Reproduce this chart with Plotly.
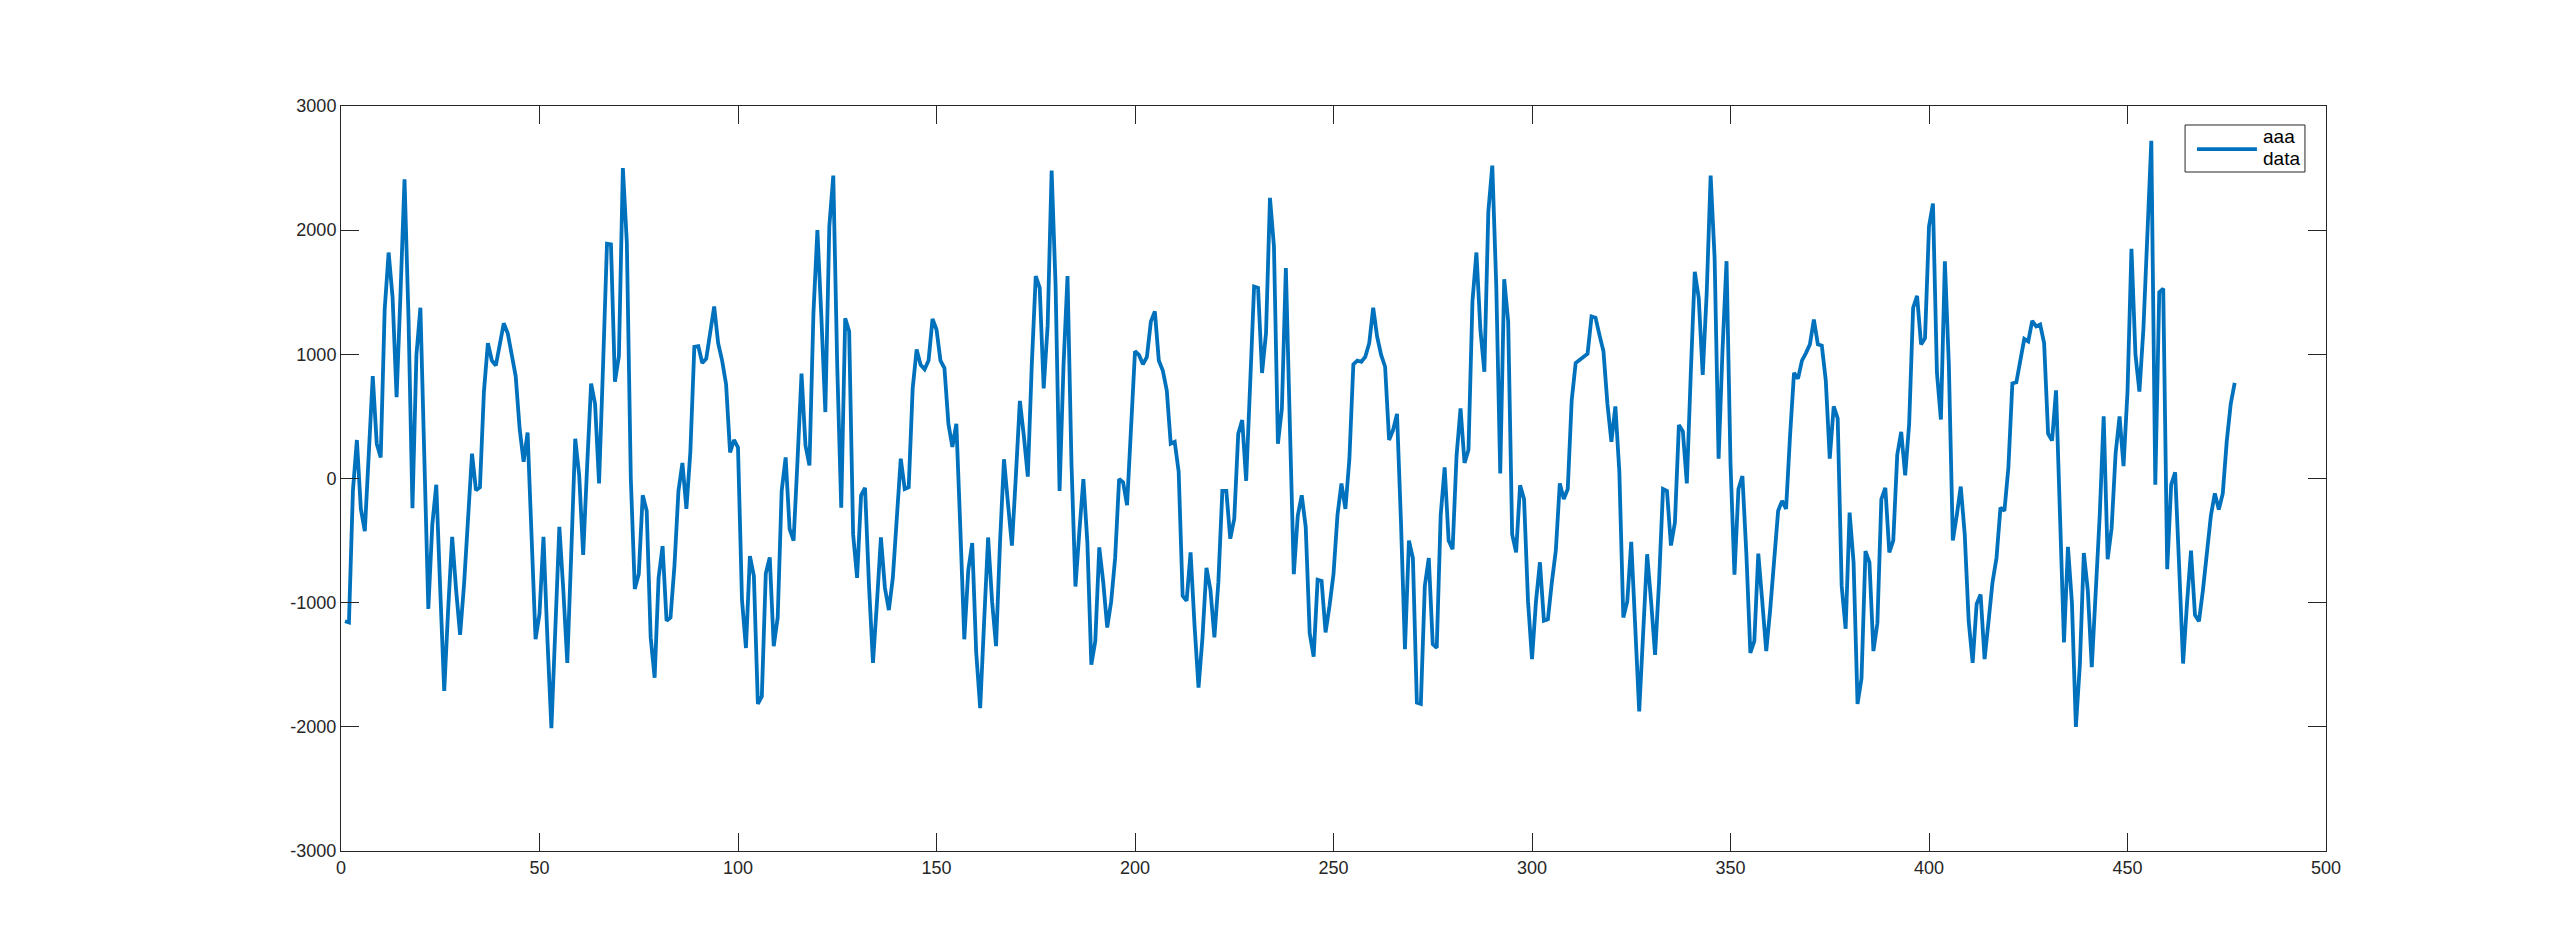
import plotly.graph_objects as go

# sample index (1..477)
x_index = list(range(1, 478))

# series values
values_1_100 = [
    -1150, -1160, -100, 310, -245, -425, 200, 825, 280, 170,
    1360, 1820, 1455, 655, 1500, 2410, 1300, -240, 995, 1375,
    160, -1050, -370, -50, -900, -1710, -1050, -470, -900, -1260,
    -850, -350, 200, -95, -70, 700, 1090, 950, 910, 1080,
    1250, 1170, 1000, 825, 400, 135, 370, -450, -1295, -1090,
    -470, -1300, -2010, -1200, -390, -900, -1485, -600, 320, 25,
    -615, 100, 765, 600, -40, 900, 1890, 1885, 780, 985,
    2500, 1900, 0, -890, -770, -135, -260, -1280, -1605, -800,
    -545, -1145, -1120, -700, -100, 125, -245, 215, 1060, 1065,
    930, 965, 1170, 1385, 1090, 950, 757, 210, 310, 250,
]
values_101_200 = [
    -975, -1365, -625, -785, -1815, -1755, -765, -635, -1350, -1120,
    -100, 170, -405, -500, 150, 845, 265, 105, 1330, 2000,
    1300, 535, 2030, 2440, 900, -235, 1290, 1185, -450, -800,
    -135, -75, -865, -1485, -1000, -475, -880, -1060, -800, -355,
    160, -85, -70, 725, 1040, 915, 880, 950, 1285, 1200,
    950, 890, 440, 255, 440, -400, -1295, -740, -520, -1400,
    -1850, -1150, -475, -990, -1350, -515, 155, -200, -540, 25,
    625, 345, 15, 915, 1630, 1535, 725, 1235, 2480, 1550,
    -100, 915, 1630, 120, -870, -420, -5, -515, -1500, -1310,
    -555, -835, -1200, -990, -640, -5, -30, -215, 440, 1025,
]
values_201_300 = [
    995, 920, 980, 1265, 1345, 950, 870, 710, 280, 295,
    55, -945, -985, -595, -1185, -1685, -1280, -720, -895, -1280,
    -835, -100, -100, -485, -325, 360, 470, -20, 755, 1545,
    1535, 850, 1170, 2260, 1870, 280, 565, 1695, 440, -770,
    -300, -135, -390, -1245, -1435, -815, -825, -1240, -1025, -770,
    -295, -40, -245, 155, 920, 950, 940, 980, 1090, 1375,
    1140, 995, 900, 310, 390, 520, -355, -1375, -500, -640,
    -1805, -1815, -865, -640, -1335, -1365, -295, 90, -500, -570,
    185, 565, 125, 230, 1425, 1820, 1200, 860, 2150, 2520,
    1550, 40, 1605, 1265, -450, -595, -55, -165, -990, -1455,
]
values_301_400 = [
    -990, -675, -1145, -1135, -835, -580, -40, -165, -85, 630,
    930, 955, 980, 1005, 1305, 1295, 1155, 1025, 600, 295,
    580, 55, -1120, -990, -510, -1245, -1875, -1245, -610, -990,
    -1420, -835, -85, -100, -540, -355, 430, 380, -40, 850,
    1665, 1455, 835, 1490, 2440, 1775, 160, 1045, 1750, 120,
    -775, -85, 20, -610, -1405, -1310, -605, -990, -1390, -1055,
    -675, -260, -180, -245, 345, 850, 805, 950, 1010, 1080,
    1280, 1080, 1070, 790, 160, 580, 485, -865, -1210, -275,
    -675, -1815, -1610, -585, -675, -1390, -1165, -165, -75, -595,
    -500, 190, 375, 25, 440, 1375, 1470, 1080, 1130, 2030,
]
values_401_477 = [
    2215, 850, 475, 1750, 915, -500, -295, -65, -450, -1150,
    -1485, -1010, -935, -1455, -1150, -835, -640, -235, -260, 90,
    765, 775, 950, 1125, 1105, 1270, 1225, 1240, 1090, 360,
    305, 710, -300, -1320, -550, -1000, -2000, -1500, -600, -900,
    -1520, -900, -300, 500, -650, -400, 200, 500, 100, 700,
    1850, 1000, 700, 1200, 2000, 2720, -50, 1500, 1530, -730,
    -50, 50, -700, -1490, -1000, -580, -1100, -1150, -900, -600,
    -300, -120, -250, -120, 300, 600, 770,
]
y_values = values_1_100 + values_101_200 + values_201_300 + values_301_400 + values_401_477

x_ticks = [0, 50, 100, 150, 200, 250, 300, 350, 400, 450, 500]
x_tick_labels = ["0", "50", "100", "150", "200", "250", "300", "350", "400", "450", "500"]
y_ticks = [-3000, -2000, -1000, 0, 1000, 2000, 3000]
y_tick_labels = ["-3000", "-2000", "-1000", "0", "1000", "2000", "3000"]

legend_lines = ["aaa", "data"]

font_family = "Liberation Sans, Arial, Helvetica, sans-serif"
axis_color = "#262626"
line_color = "#0072BD"
line_width = 3.8

fig = go.Figure()
fig.add_trace(go.Scatter(
    x=x_index, y=y_values, mode="lines", name="aaa data",
    line=dict(color=line_color, width=line_width),
    showlegend=False,
))

axis_common = dict(
    showgrid=False, zeroline=False, showline=True, mirror="ticks",
    linecolor=axis_color, linewidth=1, ticks="inside", ticklen=18,
    tickcolor=axis_color, tickwidth=1,
    tickfont=dict(family=font_family, size=18, color=axis_color),
)

# legend box drawn in paper coordinates (MATLAB-style legend)
fig.add_shape(type="rect", xref="paper", yref="paper",
              x0=0.929, x1=0.9894, y0=0.9114, y1=0.9745,
              line=dict(color=axis_color, width=1), fillcolor="white", layer="above")
fig.add_shape(type="line", xref="paper", yref="paper",
              x0=0.935, x1=0.9652, y0=0.9420, y1=0.9420,
              line=dict(color=line_color, width=line_width), layer="above")
fig.add_annotation(text=legend_lines[0], xref="paper", yref="paper",
                   x=0.9672, y=0.9585, xanchor="left", yanchor="middle",
                   showarrow=False, font=dict(family=font_family, size=19, color="black"))
fig.add_annotation(text=legend_lines[1], xref="paper", yref="paper",
                   x=0.9672, y=0.9290, xanchor="left", yanchor="middle",
                   showarrow=False, font=dict(family=font_family, size=19, color="black"))

fig.update_layout(
    width=2560, height=948,
    margin=dict(l=333, r=242, t=98, b=105, autoexpand=False),
    paper_bgcolor="white", plot_bgcolor="white",
    font=dict(family=font_family, size=18, color=axis_color),
    xaxis=dict(range=[0, 500], tickvals=x_ticks, ticktext=x_tick_labels, **axis_common),
    yaxis=dict(range=[-3000, 3000], tickvals=y_ticks, ticktext=y_tick_labels, **axis_common),
    showlegend=False,
)

fig.write_html("out.html")
